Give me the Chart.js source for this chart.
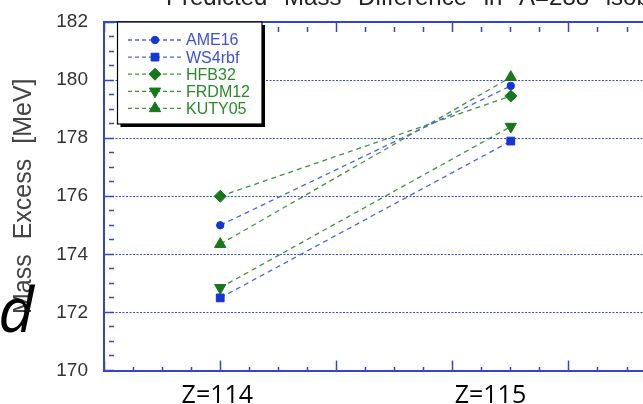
<!DOCTYPE html>
<html>
<head>
<meta charset="utf-8">
<script src="https://cdn.jsdelivr.net/npm/chart.js@4.4.1/dist/chart.umd.min.js"></script>
<style>
  html, body { margin: 0; padding: 0; background: #ffffff; }
  #wrap { width: 643px; height: 404px; }
</style>
</head>
<body>
<div id="wrap"><canvas id="chart" width="643" height="404"></canvas></div>
<script>
// ---- data ----
const seriesNames = ['AME16', 'WS4rbf', 'HFB32', 'FRDM12', 'KUTY05'];
const zValues = [114, 115];
const zLabels = ['Z=114', 'Z=115'];
const yTickLabels = ['170', '172', '174', '176', '178', '180', '182'];
const ame16  = [175.0, 179.8];
const ws4rbf = [172.5, 177.9];
const hfb32  = [176.0, 179.45];
const frdm12 = [172.85, 178.4];
const kuty05 = [174.35, 180.1];
const seriesValues = [ame16, ws4rbf, hfb32, frdm12, kuty05];

// ---- styles ----
const BLUE_MARK = '#1436d2', BLUE_LINE = '#4a66dc', BLUE_TEXT = '#3a50e2';
const GREEN_MARK = '#16781a', GREEN_LINE = '#3f923f', GREEN_TEXT = '#2b8a2b';
const AXIS = '#3347c4';
const GRID = '#2f4fd0';
const seriesStyles = [
  { mark: BLUE_MARK,  line: BLUE_LINE,  text: BLUE_TEXT,  shape: 'circle',   r: 3.7, rot: 0 },
  { mark: BLUE_MARK,  line: BLUE_LINE,  text: BLUE_TEXT,  shape: 'rect',     r: 5.5, rot: 0 },
  { mark: GREEN_MARK, line: GREEN_LINE, text: GREEN_TEXT, shape: 'rectRot',  r: 6,   rot: 0 },
  { mark: GREEN_MARK, line: GREEN_LINE, text: GREEN_TEXT, shape: 'triangle', r: 6.5, rot: 180 },
  { mark: GREEN_MARK, line: GREEN_LINE, text: GREEN_TEXT, shape: 'triangle', r: 6.5, rot: 0 }
];

// x axis runs in Z units, with minor ticks every 0.1 and major ticks every 0.4
const X_MIN = 113.6, X_MAX = 115.455, X_STEP = 0.1;
const Y_MIN = 170, Y_MAX = 182, Y_STEP = 0.5;
// where the two category captions sit along the x axis
const captionAt = [113.99, 114.93];

function stepTicks(min, max, step) {
  const out = [];
  const n = Math.floor((max - min) / step + 1e-6);
  for (let k = 0; k <= n; k++) out.push({ value: +(min + k * step).toFixed(4) });
  return out;
}
const isMajorX = v => Math.round((v - X_MIN) / X_STEP) % 4 === 0;
const isMajorY = v => Math.round(v * 2) % 4 === 0;

// fixed axis thickness, no extra room reserved for overhanging labels
const fixSize = (w, h) => s => {
  if (w !== null) s.width = w;
  if (h !== null) s.height = h;
  s.paddingTop = s.paddingBottom = s.paddingLeft = s.paddingRight = 0;
};

const datasets = seriesNames.map((name, i) => {
  const s = seriesStyles[i];
  return {
    label: name,
    data: zValues.map((z, k) => ({ x: z, y: seriesValues[i][k] })),
    borderColor: s.line,
    borderWidth: 1.3,
    borderDash: [5, 4],
    pointStyle: s.shape,
    pointRadius: s.r,
    pointRotation: s.rot,
    pointBackgroundColor: s.mark,
    pointBorderColor: s.mark,
    pointBorderWidth: 1,
    fill: false,
    tension: 0,
    xAxisID: 'x',
    yAxisID: 'y',
    legendText: s.text
  };
});

// Framed legend with drop shadow: dashed line, marker, coloured name
const boxLegend = {
  id: 'boxLegend',
  afterDraw(chart) {
    const ctx = chart.ctx;
    const L = 117.5, T = 22, R = 262, B = 124;
    ctx.save();
    ctx.fillStyle = '#000';
    ctx.fillRect(L + 3, T + 3, R - L, B - T);
    ctx.fillStyle = '#fff';
    ctx.fillRect(L, T, R - L, B - T);
    ctx.strokeStyle = '#000';
    ctx.lineWidth = 1.2;
    ctx.strokeRect(L, T, R - L, B - T);
    chart.data.datasets.forEach((ds, i) => {
      const y = 40 + i * 17.1;
      ctx.save();
      ctx.strokeStyle = ds.borderColor;
      ctx.lineWidth = 1.3;
      ctx.setLineDash([4, 3]);
      ctx.beginPath();
      ctx.moveTo(128, y);
      ctx.lineTo(182, y);
      ctx.stroke();
      ctx.restore();
      ctx.fillStyle = ds.pointBackgroundColor;
      ctx.strokeStyle = ds.pointBorderColor;
      ctx.lineWidth = 1;
      Chart.helpers.drawPoint(ctx, {
        pointStyle: ds.pointStyle,
        radius: ds.pointRadius,
        rotation: ds.pointRotation,
        borderWidth: 1
      }, 155, y);
      ctx.fillStyle = ds.legendText;
      ctx.font = '16px "Liberation Sans", Arial, sans-serif';
      ctx.textAlign = 'left';
      ctx.textBaseline = 'middle';
      ctx.fillText(ds.label, 186, y + 1);
    });
    ctx.restore();
  }
};

// Heading along the top edge and the lettering at the left margin
const overlayText = {
  id: 'overlayText',
  beforeDraw(chart) {
    chart.ctx.wordSpacing = '8px';
  },
  afterDraw(chart) {
    const ctx = chart.ctx;
    ctx.save();
    ctx.wordSpacing = '10px';
    ctx.fillStyle = '#222';
    ctx.font = '24px "Liberation Sans", Arial, sans-serif';
    ctx.textAlign = 'left';
    ctx.textBaseline = 'alphabetic';
    ctx.fillText('Predicted Mass Difference in A=288 isobar', 166, 5);
    ctx.wordSpacing = '0px';
    ctx.fillStyle = '#000';
    ctx.font = 'italic 62px "Open Sans", sans-serif';
    ctx.textAlign = 'right';
    ctx.fillText('ed', 34, 332);
    ctx.restore();
  }
};

const tickGrid = (majorFn) => ({
  drawOnChartArea: false,
  drawTicks: true,
  tickLength: -10,
  tickWidth: 1.5,
  tickColor: AXIS,
  tickBorderDash: ctx => (ctx.tick && majorFn(ctx.tick.value)) ? [] : [5, 40]
});

new Chart(document.getElementById('chart'), {
  type: 'line',
  data: { datasets },
  plugins: [boxLegend, overlayText],
  options: {
    responsive: false,
    animation: false,
    devicePixelRatio: 1,
    layout: { autoPadding: false, padding: { left: 0, top: 22, right: 0, bottom: 0 } },
    plugins: {
      legend: { display: false },
      tooltip: { enabled: false },
      title: { display: false }
    },
    scales: {
      x: {
        type: 'linear',
        position: 'bottom',
        min: X_MIN, max: X_MAX,
        weight: 0,
        afterBuildTicks: s => { s.ticks = stepTicks(X_MIN, 115.4, X_STEP); },
        afterFit: fixSize(null, 0),
        ticks: { display: false },
        grid: tickGrid(isMajorX),
        border: { display: true, color: AXIS, width: 2 }
      },
      xCaption: {
        type: 'linear',
        position: 'bottom',
        min: X_MIN, max: X_MAX,
        weight: 1,
        afterBuildTicks: s => { s.ticks = captionAt.map(v => ({ value: v })); },
        afterFit: fixSize(null, 33.5),
        ticks: {
          autoSkip: false,
          maxRotation: 0,
          padding: 2,
          color: '#000',
          font: { family: '"Open Sans", sans-serif', size: 25 },
          callback: (v, i) => zLabels[i]
        },
        grid: { display: false },
        border: { display: false }
      },
      xTop: {
        type: 'linear',
        position: 'top',
        min: X_MIN, max: X_MAX,
        afterBuildTicks: s => { s.ticks = stepTicks(X_MIN, 115.4, X_STEP); },
        afterFit: fixSize(null, 0),
        ticks: { display: false },
        grid: tickGrid(isMajorX),
        border: { display: true, color: AXIS, width: 2 }
      },
      y: {
        type: 'linear',
        position: 'left',
        min: Y_MIN, max: Y_MAX,
        afterBuildTicks: s => { s.ticks = stepTicks(Y_MIN, Y_MAX, Y_STEP); },
        afterFit: fixSize(104, null),
        ticks: {
          autoSkip: false,
          padding: 26,
          color: '#333',
          font: { family: '"Liberation Sans", Arial, sans-serif', size: 19 },
          callback: v => (yTickLabels.includes(String(v)) ? String(v) : '')
        },
        grid: {
          drawOnChartArea: true,
          color: ctx => {
            const v = ctx.tick ? ctx.tick.value : 0;
            return (isMajorY(v) && v > Y_MIN && v < Y_MAX) ? GRID : 'rgba(0,0,0,0)';
          },
          lineWidth: 1,
          drawTicks: true,
          tickLength: -10,
          tickWidth: 1.5,
          tickColor: AXIS,
          tickBorderDash: ctx => (ctx.tick && isMajorY(ctx.tick.value)) ? [] : [5, 40]
        },
        border: { display: true, color: AXIS, width: 2, dash: [2, 1.5] },
        title: {
          display: true,
          text: 'Mass Excess [MeV]',
          color: '#444',
          font: { family: '"Liberation Sans", Arial, sans-serif', size: 25 },
          padding: { top: 9, bottom: 0 }
        }
      }
    }
  }
});
</script>
</body>
</html>
